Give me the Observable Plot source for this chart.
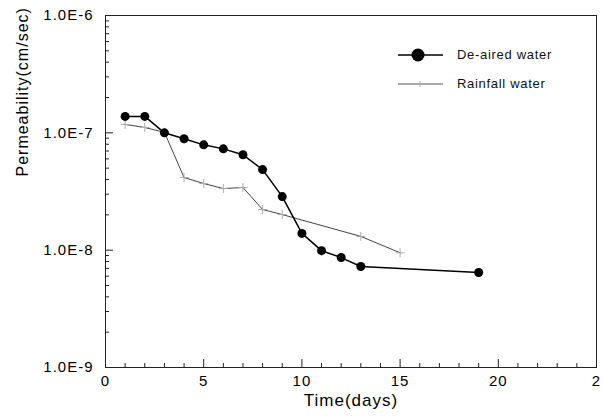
<!DOCTYPE html>
<html>
<head>
<meta charset="utf-8">
<script src="https://cdn.jsdelivr.net/npm/d3@7"></script>
<script src="https://cdn.jsdelivr.net/npm/@observablehq/plot@0.6"></script>
<style>
  html, body { margin: 0; padding: 0; background: #fff; }
  #wrap { position: relative; width: 602px; height: 416px; font-family: "Liberation Sans", Arial, sans-serif; }
  #wrap svg text { letter-spacing: 1px; }
  #legend { position: absolute; left: 398px; top: 40px; font-size: 13px; letter-spacing: 0.7px; color: #111; }
  #legend .row { display: flex; align-items: center; height: 29px; }
  #legend .row span { margin-left: 14px; }
</style>
</head>
<body>
<div id="wrap">
  <div id="legend">
    <div class="row"><svg width="45" height="20"><line x1="0" y1="10" x2="45" y2="10" stroke="#000" stroke-width="1.3"/><circle cx="20" cy="10" r="6.5" fill="#000"/></svg><span>De-aired water</span></div>
    <div class="row"><svg width="45" height="20"><line x1="0" y1="10" x2="45" y2="10" stroke="#555" stroke-width="1"/><path d="M22,7V13M19,10H25" stroke="#aaa" stroke-width="1"/></svg><span>Rainfall water</span></div>
  </div>
</div>
<script>
// Data
const deairedDays = [1, 2, 3, 4, 5, 6, 7, 8, 9, 10, 11, 12, 13, 19];
const deairedValues = [1.38e-7, 1.38e-7, 1.0e-7, 8.9e-8, 7.9e-8, 7.3e-8, 6.5e-8, 4.86e-8, 2.86e-8, 1.39e-8, 9.9e-9, 8.65e-9, 7.25e-9, 6.45e-9];
const rainDays = [1, 2, 3, 4, 5, 6, 7, 8, 9, 13, 15];
const rainValues = [1.18e-7, 1.11e-7, 1.01e-7, 4.16e-8, 3.7e-8, 3.35e-8, 3.42e-8, 2.22e-8, 2.01e-8, 1.31e-8, 9.5e-9];

const xTicks = [0, 5, 10, 15, 20, 25];
const xTickLabels = ["0", "5", "10", "15", "20", "2"];
const xMinorTicks = [1, 2, 3, 4, 6, 7, 8, 9, 11, 12, 13, 14, 16, 17, 18, 19, 21, 22, 23, 24];
const yTicks = [1e-9, 1e-8, 1e-7, 1e-6];
const yTickLabels = ["1.0E-9", "1.0E-8", "1.0E-7", "1.0E-6"];
const yMinorMultipliers = [2, 3, 4, 5, 6, 7, 8, 9];
const yMinorTicks = [1e-9, 1e-8, 1e-7].flatMap(d => yMinorMultipliers.map(m => m * d));

const deaired = deairedDays.map((d, i) => ({day: d, k: deairedValues[i]}));
const rain = rainDays.map((d, i) => ({day: d, k: rainValues[i]}));

const W = 602, H = 416, mL = 105, mR = 6, mT = 15, mB = 49;
const innerW = W - mL - mR, innerH = H - mT - mB;
const xLab = new Map(xTicks.map((t, i) => [t, xTickLabels[i]]));
const yLab = new Map(yTicks.map((t, i) => [t, yTickLabels[i]]));

const chart = Plot.plot({
  width: W, height: H,
  marginLeft: mL, marginRight: mR, marginTop: mT, marginBottom: mB,
  style: {fontFamily: "'Liberation Sans', Arial, sans-serif", fontSize: "15px", color: "#000", background: "#fff"},
  x: {domain: [0, 25]},
  y: {type: "log", domain: [1e-9, 1e-6]},
  marks: [
    Plot.frame({stroke: "#222", strokeWidth: 1}),
    Plot.axisX(xTicks, {tickSize: 0, tickPadding: 8, tickFormat: d => xLab.get(d), label: null, fontSize: 15}),
    Plot.axisY(yTicks, {tickSize: 0, tickPadding: 12, tickFormat: d => yLab.get(d), label: null, fontSize: 15}),
    Plot.tickX(xTicks, {x: d => d, insetTop: innerH - 8, stroke: "#222"}),
    Plot.tickX(xMinorTicks, {x: d => d, insetTop: innerH - 4, stroke: "#222"}),
    Plot.tickY(yTicks, {y: d => d, insetRight: innerW - 8, stroke: "#222"}),
    Plot.tickY(yMinorTicks, {y: d => d, insetRight: innerW - 4, stroke: "#222"}),
    Plot.line(rain, {x: "day", y: "k", stroke: "#444", strokeWidth: 1}),
    Plot.dot(rain, {x: "day", y: "k", symbol: "plus", r: 3, stroke: "#aaa", strokeWidth: 1}),
    Plot.line(deaired, {x: "day", y: "k", stroke: "#000", strokeWidth: 1.5}),
    Plot.dot(deaired, {x: "day", y: "k", r: 4.5, fill: "#000"}),
    Plot.text(["Time(days)"], {frameAnchor: "bottom", dy: 38, fontSize: 17}),
    Plot.text(["Permeability(cm/sec)"], {frameAnchor: "left", dx: -83, dy: -15, rotate: -90, fontSize: 16})
  ]
});
document.getElementById("wrap").prepend(chart);
</script>
</body>
</html>
